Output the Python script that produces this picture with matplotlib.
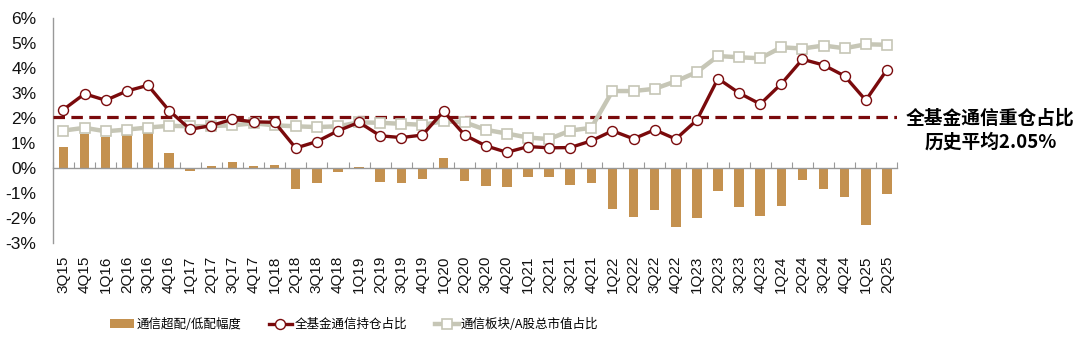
import numpy as np
import matplotlib
matplotlib.use("Agg")
import matplotlib.pyplot as plt
from matplotlib.ticker import FuncFormatter

plt.rcParams['font.family'] = ['Liberation Sans', 'Noto Sans CJK SC', 'DejaVu Sans']

quarters = [
    "3Q15", "4Q15",
    "1Q16", "2Q16", "3Q16", "4Q16",
    "1Q17", "2Q17", "3Q17", "4Q17",
    "1Q18", "2Q18", "3Q18", "4Q18",
    "1Q19", "2Q19", "3Q19", "4Q19",
    "1Q20", "2Q20", "3Q20", "4Q20",
    "1Q21", "2Q21", "3Q21", "4Q21",
    "1Q22", "2Q22", "3Q22", "4Q22",
    "1Q23", "2Q23", "3Q23", "4Q23",
    "1Q24", "2Q24", "3Q24", "4Q24",
    "1Q25", "2Q25",
]

# 通信超配/低配幅度 (%)
overweight = [
    0.86, 1.37, 1.26, 1.33, 1.42, 0.62,
    -0.10, 0.07, 0.23, 0.07,
    0.14, -0.85, -0.60, -0.16,
    0.03, -0.55, -0.60, -0.44,
    0.40, -0.53, -0.70, -0.74,
    -0.34, -0.35, -0.69, -0.60,
    -1.64, -1.95, -1.69, -2.35,
    -1.99, -0.93, -1.55, -1.92,
    -1.52, -0.48, -0.83, -1.17,
    -2.27, -1.05,
]

# 全基金通信持仓占比 (%)
fund_share = [
    2.34, 2.97, 2.71, 3.08, 3.31, 2.30,
    1.55, 1.70, 1.95, 1.85,
    1.83, 0.80, 1.06, 1.49,
    1.83, 1.29, 1.22, 1.32,
    2.27, 1.32, 0.89, 0.63,
    0.86, 0.81, 0.82, 1.09,
    1.49, 1.17, 1.53, 1.16,
    1.92, 3.58, 3.00, 2.56,
    3.37, 4.35, 4.12, 3.68,
    2.71, 3.93,
]

# 通信板块/A股总市值占比 (%)
sector_share = [
    1.50, 1.61, 1.47, 1.54, 1.62, 1.69,
    1.67, 1.68, 1.71, 1.79,
    1.71, 1.67, 1.64, 1.67,
    1.83, 1.81, 1.77, 1.73,
    1.87, 1.83, 1.53, 1.38,
    1.22, 1.16, 1.50, 1.61,
    3.08, 3.08, 3.17, 3.47,
    3.84, 4.48, 4.43, 4.39,
    4.83, 4.78, 4.90, 4.79,
    4.95, 4.93,
]

hist_avg = 2.05

BAR_C = "#C4914F"
RED_C = "#7A0A0C"
GRAY_C = "#C6C6B6"

fig = plt.figure(figsize=(10.8, 3.4), dpi=100)
ax = fig.add_axes([0.049, 0.285, 0.782, 0.662])

x = np.arange(len(quarters))

ax.bar(x, overweight, width=0.45, color=BAR_C, zorder=2, label="通信超配/低配幅度")
ax.axhline(hist_avg, color=RED_C, lw=2.3, dashes=(3.6, 2.0), zorder=3)
ax.plot(x, fund_share, color=RED_C, lw=2.4, marker="o", ms=7.2,
        mfc="white", mec=RED_C, mew=1.0, zorder=5, label="全基金通信持仓占比")
ax.plot(x, sector_share, color=GRAY_C, lw=3.2, marker="s", ms=7.4,
        mfc="white", mec=GRAY_C, mew=1.2, zorder=4, label="通信板块/A股总市值占比")

ax.set_xlim(-0.5, len(quarters) - 0.5)
ax.set_ylim(-3, 6)
ax.set_yticks(range(-3, 7))
ax.yaxis.set_major_formatter(FuncFormatter(lambda v, _: f"{int(v)}%"))
ax.tick_params(axis="y", length=0, labelsize=12.5, pad=12, colors="#111111")

for s in ("top", "right"):
    ax.spines[s].set_visible(False)
ax.spines["left"].set_color("#999999")
ax.spines["left"].set_linewidth(1.0)
ax.spines["bottom"].set_position(("data", 0))
ax.spines["bottom"].set_color("#999999")
ax.spines["bottom"].set_linewidth(1.0)
ax.set_xticks(np.arange(-0.5, len(quarters)))
ax.tick_params(axis="x", direction="in", length=4, color="#999999", labelbottom=False)

# quarter labels along the bottom edge
sec = ax.secondary_xaxis(0.0)
sec.set_xticks(x)
sec.set_xticklabels(quarters, rotation=90, fontsize=11, color="#111111")
sec.tick_params(length=0, pad=9)
sec.spines["bottom"].set_visible(False)

fig.text(0.917, 0.618, "全基金通信重仓占比\n历史平均2.05%", ha="center", va="center",
         fontsize=13.5, fontweight="bold", linespacing=1.3,
         family=["Noto Sans CJK SC", "DejaVu Sans"])

handles, labels = ax.get_legend_handles_labels()
order = [2, 0, 1]
fig.legend([handles[i] for i in order], [labels[i] for i in order],
           loc="center", bbox_to_anchor=(0.328, 0.045), ncol=3, frameon=False,
           prop={"family": ["Noto Sans CJK SC", "DejaVu Sans"], "size": 9},
           handlelength=1.9, handletextpad=0.2, columnspacing=2.2)

fig.savefig("out.png", dpi=100)
